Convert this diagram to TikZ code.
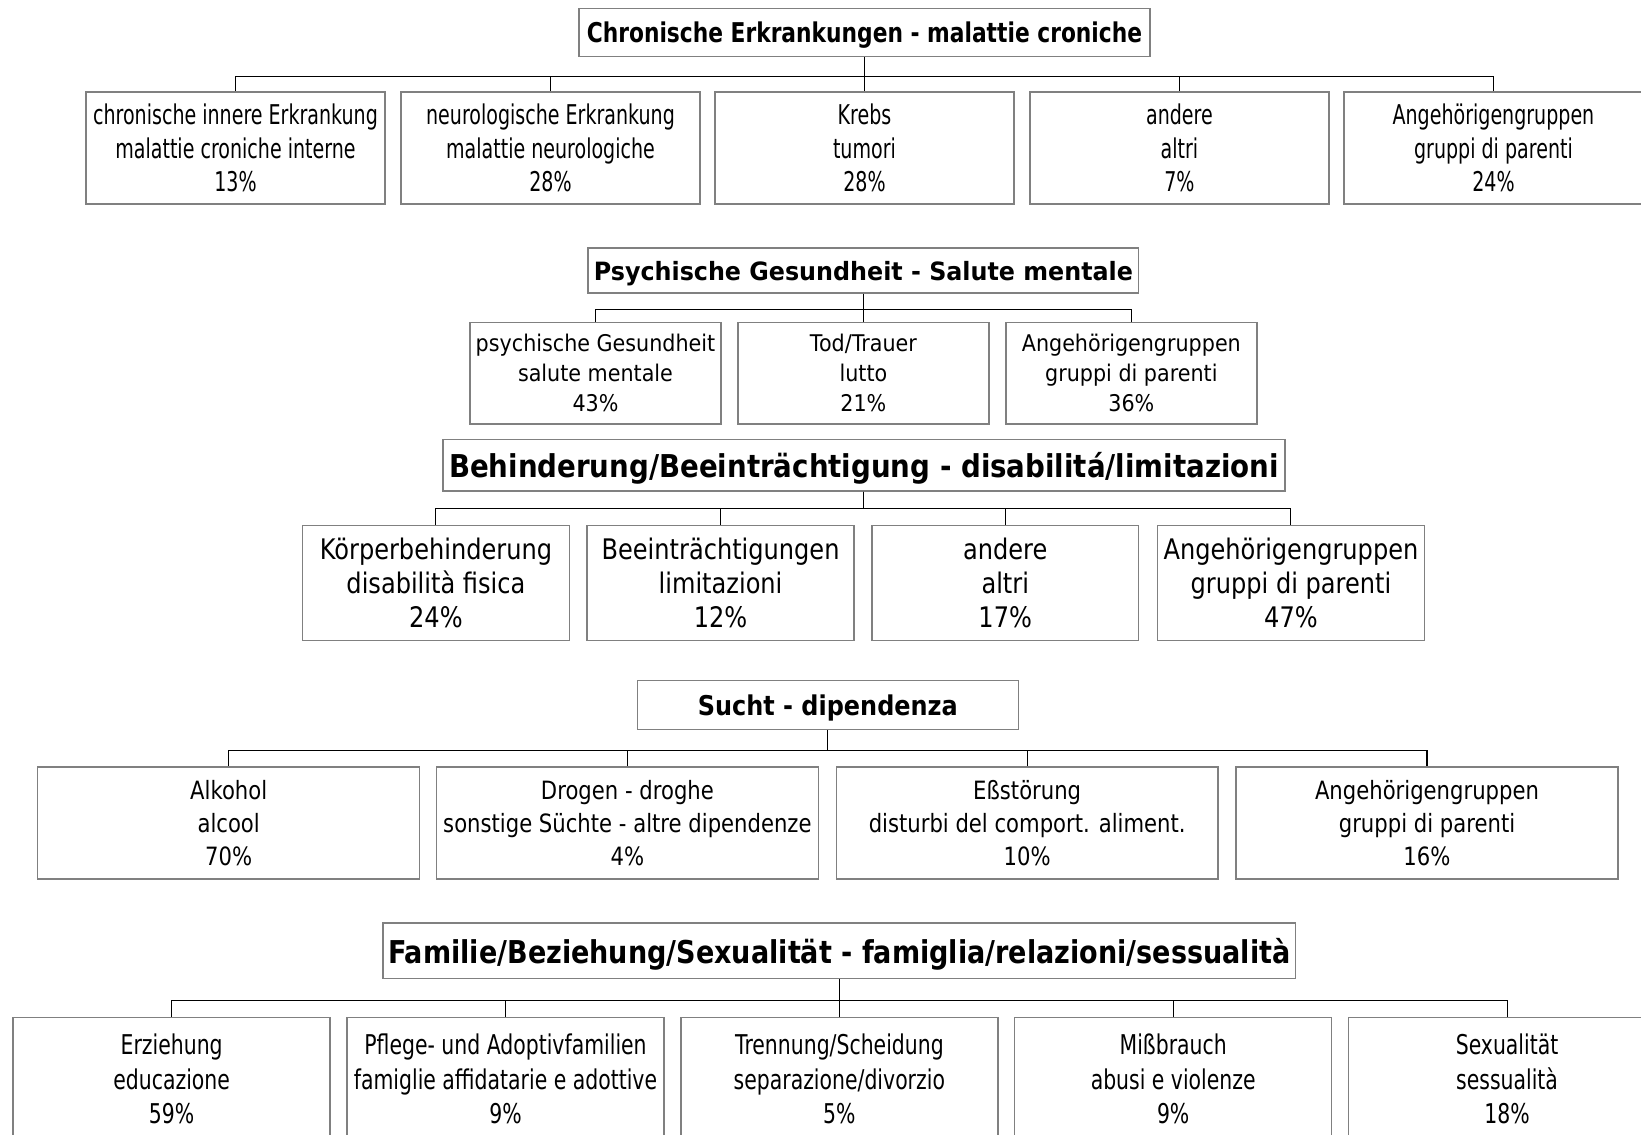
\documentclass[tikz,border=0pt]{standalone}
\usepackage{fontspec}
\setmainfont{DejaVu Sans}
\newfontfamily\fcron[FakeStretch=0.70]{DejaVu Sans}
\newfontfamily\tcron[FakeStretch=0.80]{DejaVu Sans}
\newfontfamily\fpsy[FakeStretch=0.90]{DejaVu Sans}
\newfontfamily\tpsy[FakeStretch=0.945]{DejaVu Sans}
\newfontfamily\fbeh[FakeStretch=0.85]{DejaVu Sans}
\newfontfamily\tbeh[FakeStretch=0.88]{DejaVu Sans}
\newfontfamily\fsucht[FakeStretch=0.84]{DejaVu Sans}
\newfontfamily\tsucht[FakeStretch=0.88]{DejaVu Sans}
\newfontfamily\ffam[FakeStretch=0.75]{DejaVu Sans}
\newfontfamily\tfam[FakeStretch=0.86]{DejaVu Sans}
\tikzset{
  box/.style 2 args={draw=gray, line width=.8pt, inner sep=0pt, align=center,
    minimum width=#1, minimum height=#2},
  head/.style 2 args={box={#1}{#2}, text depth=0pt},
  link/.style={line width=.6pt}
}
\begin{document}
\begin{tikzpicture}[x=.02cm, y=-.02cm]
\clip (0,0) rectangle (1568,1084);
% chronische Erkrankungen
\begin{scope}[font=\fcron\fontsize{14.8}{18.2}\selectfont]
\node[head={10.92cm}{.92cm}, font=\tcron\bfseries\fontsize{14.8}{18.2}\selectfont] (cron) at (826,31) {Chronische Erkrankungen - malattie croniche};
\node[box={5.72cm}{2.14cm}] (cron1) at (225,141.5) {chronische innere Erkrankung\\malattie croniche interne\\13\%};
\node[box={5.72cm}{2.14cm}] (cron2) at (526,141.5) {neurologische Erkrankung\\malattie neurologiche\\28\%};
\node[box={5.72cm}{2.14cm}] (cron3) at (826,141.5) {Krebs\\tumori\\28\%};
\node[box={5.72cm}{2.14cm}] (cron4) at (1127,141.5) {andere\\altri\\7\%};
\node[box={5.72cm}{2.14cm}] (cron5) at (1427,141.5) {Angehörigengruppen\\gruppi di parenti\\24\%};
\foreach \c in {cron1,cron2,cron3,cron4,cron5}
  \draw[link] (cron.south) -- ++(0,18) -| (\c.north);
\end{scope}
% psychische Gesundheit
\begin{scope}[font=\fpsy\fontsize{12.5}{16.2}\selectfont]
\node[head={10.52cm}{.86cm}, font=\tpsy\bfseries\fontsize{13.7}{16.2}\selectfont] (psy) at (825,258.5) {Psychische Gesundheit - Salute mentale};
\node[box={4.8cm}{1.94cm}] (psy1) at (569,356.5) {psychische Gesundheit\\salute mentale\\43\%};
\node[box={4.8cm}{1.94cm}] (psy2) at (825,356.5) {Tod/Trauer\\lutto\\21\%};
\node[box={4.8cm}{1.94cm}] (psy3) at (1081,356.5) {Angehörigengruppen\\gruppi di parenti\\36\%};
\foreach \c in {psy1,psy2,psy3}
  \draw[link] (psy.south) -- ++(0,15) -| (\c.north);
\end{scope}
% Behinderung
\begin{scope}[font=\fbeh\fontsize{15.4}{18.5}\selectfont]
\node[head={16.1cm}{.98cm}, font=\tbeh\bfseries\fontsize{17.1}{18.5}\selectfont] (beh) at (825.5,444.5) {Behinderung/Beeinträchtigung - disabilitá/limitazioni};
\node[box={5.1cm}{2.2cm}] (beh1) at (416.5,557) {Körperbehinderung\\disabilità fisica\\24\%};
\node[box={5.1cm}{2.2cm}] (beh2) at (688.5,557) {Beeinträchtigungen\\limitazioni\\12\%};
\node[box={5.1cm}{2.2cm}] (beh3) at (960.5,557) {andere\\altri\\17\%};
\node[box={5.1cm}{2.2cm}] (beh4) at (1233.5,557) {Angehörigengruppen\\gruppi di parenti\\47\%};
\foreach \c in {beh1,beh2,beh3,beh4}
  \draw[link] (beh.south) -- ++(0,16) -| (\c.north);
\end{scope}
% Sucht
\begin{scope}[font=\fsucht\fontsize{13.7}{18.2}\selectfont]
\node[head={7.28cm}{.94cm}, font=\tsucht\bfseries\fontsize{14.8}{18.2}\selectfont] (sucht) at (791,673.5) {Sucht - dipendenza};
\node[box={7.3cm}{2.14cm}] (sucht1) at (218.5,786.5) {Alkohol\\alcool\\70\%};
\node[box={7.3cm}{2.14cm}] (sucht2) at (599.5,786.5) {Drogen - droghe\\sonstige Süchte - altre dipendenze\\4\%};
\node[box={7.3cm}{2.14cm}] (sucht3) at (981.5,786.5) {Eßstörung\\disturbi del comport. aliment.\\10\%};
\node[box={7.3cm}{2.14cm}] (sucht4) at (1363.5,786.5) {Angehörigengruppen\\gruppi di parenti\\16\%};
\foreach \c in {sucht1,sucht2,sucht3,sucht4}
  \draw[link] (sucht.south) -- ++(0,19) -| (\c.north);
\end{scope}
% Familie
\begin{scope}[font=\ffam\fontsize{14.8}{18.8}\selectfont]
\node[head={17.44cm}{1.06cm}, font=\tfam\bfseries\fontsize{17.1}{18.8}\selectfont] (fam) at (802,908.5) {Familie/Beziehung/Sexualität - famiglia/relazioni/sessualità};
\node[box={6.06cm}{2.36cm}] (fam1) at (164,1031) {Erziehung\\educazione\\59\%};
\node[box={6.06cm}{2.36cm}] (fam2) at (483,1031) {Pflege- und Adoptivfamilien\\famiglie affidatarie e adottive\\9\%};
\node[box={6.06cm}{2.36cm}] (fam3) at (802,1031) {Trennung/Scheidung\\separazione/divorzio\\5\%};
\node[box={6.06cm}{2.36cm}] (fam4) at (1121,1031) {Mißbrauch\\abusi e violenze\\9\%};
\node[box={6.06cm}{2.36cm}] (fam5) at (1440,1031) {Sexualität\\sessualità\\18\%};
\foreach \c in {fam1,fam2,fam3,fam4,fam5}
  \draw[link] (fam.south) -- ++(0,20) -| (\c.north);
\end{scope}
\end{tikzpicture}
\end{document}
